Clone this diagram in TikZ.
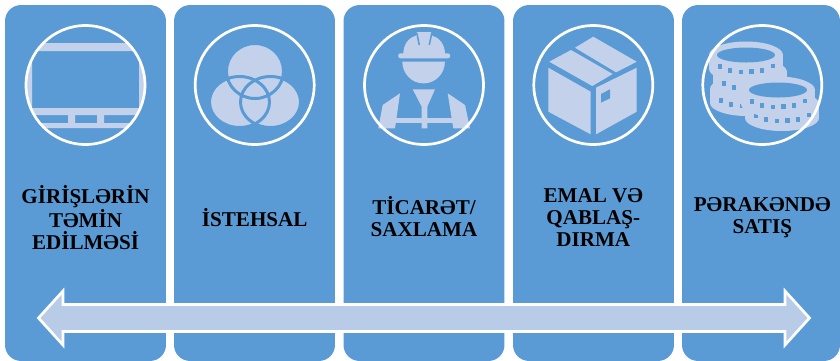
\documentclass[tikz,border=0pt]{standalone}
\usepackage{fontspec}
\setmainfont{Liberation Serif}
\usepackage{tikz}

\definecolor{panelblue}{HTML}{5B9BD5}
\definecolor{paleblue}{HTML}{C3D2EA}
\definecolor{arrowblue}{HTML}{B8CCE8}
\tikzset{
  panel/.style={fill=panelblue, draw=none, rounded corners=.32cm, minimum width=3.22cm, minimum height=7.12cm, inner sep=0pt},
  ring/.style={circle, draw=white, line width=.054cm, minimum size=2.38cm, inner sep=0pt},
  title/.style={font=\bfseries\fontsize{12}{12.5}\selectfont, align=center, text=black, inner sep=0pt},
  icon/.style={fill=paleblue, draw=none},
  iconline/.style={draw=panelblue, line width=.06cm}
}

\begin{document}
\begin{tikzpicture}[x=.02cm,y=-.02cm]
\useasboundingbox (0,0) rectangle (840,360);
\node[panel] (pone) at (85.5,183) {};
\node[panel] (ptwo) at (254.5,183) {};
\node[panel] (pthree) at (424,183) {};
\node[panel] (pfour) at (593.5,183) {};
\node[panel, minimum width=3.16cm] (pfive) at (761,183) {};
% monitor
\begin{scope}
\clip (85.5,85) circle[radius=59];
\fill[icon, even odd rule] (20,43) rectangle (150,128) (32,51) rectangle (139,108) (35,115) rectangle (68,123) (75,115) rectangle (97,123) (104,115) rectangle (136,123);
\end{scope}
% three circles
\fill[icon] (255,71) ellipse[x radius=28.5, y radius=27.5];
\fill[icon] (239.5,102) ellipse[x radius=30, y radius=25.5];
\fill[icon] (270.5,102) ellipse[x radius=30, y radius=25.5];
\draw[iconline] (255,71) ellipse[x radius=28.5, y radius=27.5];
\draw[iconline] (239.5,102) ellipse[x radius=30, y radius=25.5];
\draw[iconline] (270.5,102) ellipse[x radius=30, y radius=25.5];
% worker
\fill[icon, rounded corners=.04cm] (398.3,53.3) rectangle (450,58.3);
\fill[icon] (403.3,54) .. controls (403.3,44) and (409,37.5) .. (416,35.5) -- (417,32) -- (431,32) -- (432,35.5) .. controls (439,37.5) and (445,44) .. (445,54) -- cycle;
\draw[panelblue, line width=.03cm] (416.8,33) -- (419.3,45);
\draw[panelblue, line width=.03cm] (431.8,33) -- (429.3,45);
\fill[icon] (402.3,61.7) arc[start angle=180, end angle=0, x radius=21.3, y radius=21.7] -- cycle;
\fill[icon] (412.7,89.3) -- (435,89.3) -- (427.3,106.7) -- (427.3,128.3) -- (421.7,128.3) -- (421.7,106.7) -- cycle;
\fill[icon] (395,117.7) rectangle (453.3,122.7);
\fill[icon] (378.3,128.3) -- (382.7,105) -- (400,93.3) -- (395,128.3) -- cycle;
\fill[icon] (470,128.3) -- (465,105) -- (447.7,93.3) -- (453.3,128.3) -- cycle;
% box
\fill[icon] (548.3,67.7) -- (590.7,91.7) -- (590.7,134.3) -- (548.3,111.7) -- cycle;
\fill[icon] (596,87.7) -- (636.7,67.7) -- (636.7,111.7) -- (596,134.3) -- cycle;
\fill[icon] (549.3,61.7) -- (571,50) -- (612.7,74) -- (592.3,86) -- cycle;
\fill[icon] (575,47.7) -- (593.3,36.7) -- (636.7,61.7) -- (616,72.3) -- cycle;
\fill[panelblue] (601,94) -- (610,89.3) -- (610,98.3) -- (601,102.7) -- cycle;
% coins
\foreach \cx/\cy in {747/89,750/72,746/55,782/104,778/90}{
  \fill[icon] (\cx,\cy) ellipse[x radius=37, y radius=13.5];
  \fill[icon] (\cx,\cy+14) ellipse[x radius=37, y radius=13];
  \fill[icon] (\cx-37,\cy) rectangle (\cx+37,\cy+14);
  \fill[panelblue] (\cx,\cy) ellipse[x radius=29, y radius=7.5];
  \foreach \a in {142,119,99,80,61,35}{
    \fill[panelblue] ({\cx+33*cos(\a)-2.3},{\cy+3+14*sin(\a)-2.3}) rectangle ++(4.6,4.6);
  }
}
\node[ring] (cone) at (85.5,85) {};
\node[ring] (ctwo) at (254.7,85) {};
\node[ring] (cthree) at (424,85) {};
\node[ring] (cfour) at (593.3,85) {};
\node[ring] (cfive) at (762.3,85) {};
\node[title] (tone) at (85.5,217.5) {GİRİŞLƏRİN\\TƏMİN\\EDİLMƏSİ};
\node[title] (ttwo) at (254.7,217.5) {İSTEHSAL};
\node[title] (tthree) at (424,216.5) {TİCARƏT/\\SAXLAMA};
\node[title] (tfour) at (593.3,217.5) {EMAL VƏ\\QABLAŞ-\\DIRMA};
\node[title] (tfive) at (762.3,217.5) {PƏRAKƏNDƏ\\SATIŞ};
\draw[fill=arrowblue, draw=white, line width=.054cm] (38.5,318) -- (63,291) -- (63,304.5) -- (785,304.5) -- (785,291) -- (809.5,318) -- (785,345) -- (785,331.5) -- (63,331.5) -- (63,345) -- cycle;
\end{tikzpicture}
\end{document}
